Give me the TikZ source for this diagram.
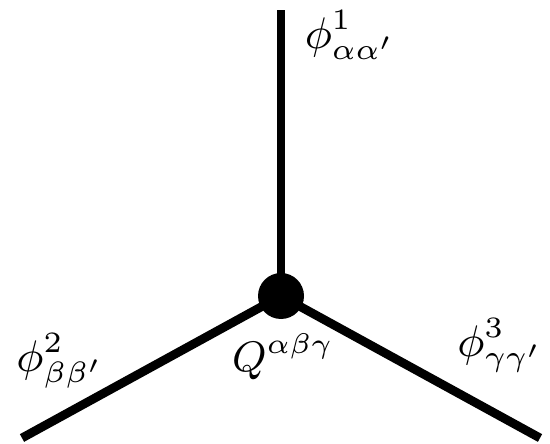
\documentclass[tikz,border=0pt]{standalone}
\usepackage{amsmath,amssymb}
\usepackage{xcolor}
\usepackage{tikz}

\begin{document}
\begin{tikzpicture}[font=\small]
      \useasboundingbox (0,0) rectangle (11,8.86);
      \coordinate (v) at (5.62,2.94);
      \coordinate (a) at (5.62,8.66);
      \coordinate (b) at (0.44,0.10);
      \coordinate (c) at (10.80,0.10);
      \draw[line width=5pt] (v) -- (a);
      \draw[line width=5pt] (v) -- (b);
      \draw[line width=5pt] (v) -- (c);
      \node[circle,fill,inner sep=0pt,minimum size=0.92cm] (q) at (v) {};
      \node[scale=2.8] (p1) at (7.00,8.16) {$\phi^1_{\alpha\alpha'}$};
      \node[scale=2.8] (p2) at (1.20,1.64) {$\phi^2_{\beta\beta'}$};
      \node[scale=2.8] (p3) at (10.00,1.95) {$\phi^3_{\gamma\gamma'}$};
      \node[scale=2.7] (qq) at (5.66,1.72) {$Q^{\alpha\beta\gamma}$};
    \end{tikzpicture}
\end{document}
